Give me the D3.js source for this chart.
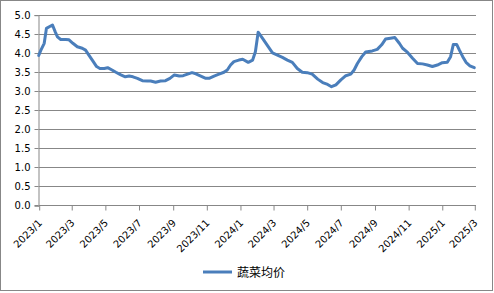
<!DOCTYPE html>
<html>
<head>
<meta charset="utf-8">
<script src="https://cdn.jsdelivr.net/npm/d3@7"></script>
<style>
  body { margin: 0; background: #fff; }
  svg { display: block; }
  .tick text { font-family: "DejaVu Sans", Verdana, sans-serif; font-size: 10px; fill: #000; }
</style>
</head>
<body>
<svg width="494" height="293"></svg>
<script>
const dates = ['2023-01-01','2023-01-05','2023-01-11','2023-01-15','2023-01-21','2023-01-26','2023-01-31',
  '2023-02-04','2023-02-10','2023-02-19','2023-02-25','2023-03-04','2023-03-12','2023-03-21','2023-03-27',
  '2023-04-02','2023-04-10','2023-04-16','2023-04-22','2023-04-30','2023-05-06','2023-05-14','2023-05-21',
  '2023-05-30','2023-06-07','2023-06-14','2023-06-21','2023-06-29','2023-07-08','2023-07-17','2023-07-23',
  '2023-08-01','2023-08-10','2023-08-19','2023-08-27','2023-09-04','2023-09-13','2023-09-20','2023-09-28',
  '2023-10-06','2023-10-13','2023-10-22','2023-10-31','2023-11-06','2023-11-15','2023-11-24','2023-12-03',
  '2023-12-09','2023-12-15','2023-12-21','2023-12-30','2024-01-06','2024-01-16','2024-01-24','2024-01-29',
  '2024-02-03','2024-02-11','2024-02-20','2024-02-29','2024-03-09','2024-03-18','2024-03-27','2024-04-05',
  '2024-04-14','2024-04-23','2024-05-02','2024-05-11','2024-05-21','2024-05-30','2024-06-08','2024-06-15',
  '2024-06-23','2024-07-02','2024-07-11','2024-07-20','2024-07-26','2024-08-01','2024-08-09','2024-08-16',
  '2024-08-28','2024-09-06','2024-09-14','2024-09-21','2024-09-30','2024-10-08','2024-10-16','2024-10-22',
  '2024-10-31','2024-11-09','2024-11-18','2024-11-27','2024-12-06','2024-12-15','2024-12-24','2025-01-02',
  '2025-01-11','2025-01-17','2025-01-22','2025-01-28','2025-02-02','2025-02-08','2025-02-14','2025-02-21',
  '2025-03-01']
const prices = [3.93,4.07,4.25,4.64,4.69,4.73,4.55,
  4.42,4.35,4.35,4.34,4.25,4.16,4.12,4.07,
  3.94,3.77,3.64,3.59,3.59,3.61,3.55,3.49,
  3.42,3.37,3.39,3.37,3.33,3.27,3.26,3.26,
  3.23,3.26,3.27,3.33,3.42,3.39,3.40,3.44,
  3.48,3.45,3.39,3.33,3.33,3.39,3.44,3.49,
  3.55,3.68,3.77,3.81,3.83,3.75,3.81,4.03,
  4.54,4.38,4.19,4.00,3.94,3.88,3.81,3.75,
  3.59,3.49,3.48,3.44,3.31,3.22,3.17,3.11,
  3.16,3.29,3.40,3.44,3.55,3.72,3.90,4.02,
  4.05,4.09,4.21,4.36,4.38,4.40,4.25,4.12,
  4.01,3.86,3.72,3.71,3.68,3.64,3.68,3.74,
  3.75,3.90,4.22,4.22,4.07,3.90,3.75,3.66,
  3.61]
const xTicks = ['2023-01-01','2023-03-01','2023-05-01','2023-07-01','2023-09-01','2023-11-01','2024-01-01',
  '2024-03-01','2024-05-01','2024-07-01','2024-09-01','2024-11-01','2025-01-01','2025-03-01']
const yTicks = [0, 0.5, 1, 1.5, 2, 2.5, 3, 3.5, 4, 4.5, 5]
const seriesName = '蔬菜均价'

const parse = d3.timeParse('%Y-%m-%d')
const data = dates.map((d, i) => ({ date: parse(d), value: prices[i] }))

const svg = d3.select('svg')
const gray = '#878787'
const blue = '#4a7ebb'

// chart border
svg.append('rect')
  .attr('x', 0.5).attr('y', 0.5)
  .attr('width', 492).attr('height', 290)
  .attr('fill', '#fff').attr('stroke', gray)

const x = d3.scaleTime()
  .domain([parse(xTicks[0]), parse(xTicks[xTicks.length - 1])])
  .range([38.7, 474.3])
const y = d3.scaleLinear().domain([0, 5]).range([205.3, 14.7])

// gridlines
svg.append('g')
  .selectAll('line')
  .data(yTicks.slice(1))
  .enter().append('line')
  .attr('x1', 38.7).attr('x2', 476)
  .attr('y1', d => Math.round(y(d)) + 0.5)
  .attr('y2', d => Math.round(y(d)) + 0.5)
  .attr('stroke', gray)

// y axis
const yAxis = svg.append('g')
  .attr('transform', 'translate(38.5,0.5)')
  .call(d3.axisLeft(y).tickValues(yTicks).tickFormat(d3.format('.1f')).tickSize(4).tickPadding(4))
yAxis.selectAll('line, path').attr('stroke', gray)
yAxis.selectAll('.tick').attr('transform', d => `translate(0,${Math.round(y(d))})`)

// x axis
const xAxis = svg.append('g')
  .attr('transform', `translate(0.5,${Math.round(y(0)) + 0.5})`)
  .call(d3.axisBottom(x).tickValues(xTicks.map(parse)).tickFormat(d3.timeFormat('%Y/%-m')).tickSize(5).tickSizeOuter(0))
xAxis.select('.domain').attr('d', `M38.2,0H475.5`)
xAxis.selectAll('line, path').attr('stroke', gray)
xAxis.selectAll('.tick text')
  .attr('text-anchor', 'end')
  .attr('transform', 'translate(3,18) rotate(-45)')
  .attr('y', 0).attr('dy', 0)

// series
const line = d3.line().x(d => x(d.date)).y(d => y(d.value)).curve(d3.curveLinear)
svg.append('path')
  .datum(data)
  .attr('d', line)
  .attr('fill', 'none')
  .attr('stroke', blue)
  .attr('stroke-width', 3)
  .attr('stroke-linejoin', 'round')
  .attr('stroke-linecap', 'round')

// legend
const legend = svg.append('g').attr('transform', 'translate(203,272)')
legend.append('line')
  .attr('x1', 0).attr('x2', 29)
  .attr('stroke', blue).attr('stroke-width', 3)
legend.append('text')
  .attr('x', 34).attr('y', 4.5)
  .attr('font-family', '"Noto Sans CJK SC", sans-serif')
  .attr('font-size', 12)
  .text(seriesName)
</script>
</body>
</html>
